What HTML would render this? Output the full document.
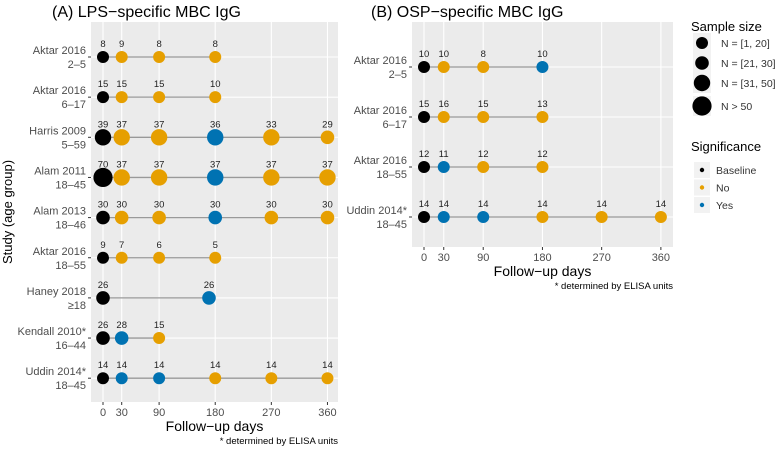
<!DOCTYPE html>
<html><head><meta charset="utf-8"><style>
body{margin:0;background:#fff;}
svg text{font-family:"Liberation Sans",sans-serif;}
</style></head><body>
<svg id="chart" width="779" height="450" viewBox="0 0 779 450" xmlns="http://www.w3.org/2000/svg">
<g id="root"></g>
</svg>
<script>
const daysTicks=[0,30,90,180,270,360];
// Panel A
const aStudies=["Aktar 2016|2\u20135","Aktar 2016|6\u201317","Harris 2009|5\u201359","Alam 2011|18\u201345","Alam 2013|18\u201346","Aktar 2016|18\u201355","Haney 2018|\u226518","Kendall 2010*|16\u201344","Uddin 2014*|18\u201345"];
const aDays=[[0,30,90,180],[0,30,90,180],[0,30,90,180,270,360],[0,30,90,180,270,360],[0,30,90,180,270,360],[0,30,90,180],[0,170],[0,30,90],[0,30,90,180,270,360]];
const aN=[[8,9,8,8],[15,15,15,10],[39,37,37,36,33,29],[70,37,37,37,37,37],[30,30,30,30,30,30],[9,7,6,5],[26,26],[26,28,15],[14,14,14,14,14,14]];
const aSig=[["B","N","N","N"],["B","N","N","N"],["B","N","N","Y","N","N"],["B","N","N","Y","N","N"],["B","N","N","Y","N","N"],["B","N","N","N"],["B","Y"],["B","Y","N"],["B","Y","Y","N","N","N"]];
// Panel B
const bStudies=["Aktar 2016|2\u20135","Aktar 2016|6\u201317","Aktar 2016|18\u201355","Uddin 2014*|18\u201345"];
const bDays=[[0,30,90,180],[0,30,90,180],[0,30,90,180],[0,30,90,180,270,360]];
const bN=[[10,10,8,10],[15,16,15,13],[12,11,12,12],[14,14,14,14,14,14]];
const bSig=[["B","N","N","Y"],["B","N","N","N"],["B","Y","N","N"],["B","Y","Y","N","N","N"]];

const NS="http://www.w3.org/2000/svg";
const root=document.getElementById('root');
const colors={B:"#000000",N:"#E69F00",Y:"#0072B2"};
function rad(n){return n<=20?6:n<=30?6.8:n<=50?8.2:9.6;}
function el(tag,attrs,parent,txt){const e=document.createElementNS(NS,tag);for(const k in attrs)e.setAttribute(k,attrs[k]);if(txt!==undefined)e.textContent=txt;(parent||root).appendChild(e);return e;}

function panel(cfg){
  const g=el('g',{});
  
  
  const {x0,x1,y0,y1,zeroX,perDay,rowY0,rowStep,studies,days,ns,sig}=cfg;
  const bg=el('rect',{x:x0,y:y0,width:x1-x0,height:y1-y0,fill:"#EBEBEB"},g);
  
  
  const xs=d=>zeroX+d*perDay;
  const ys=i=>rowY0+i*rowStep;
  daysTicks.forEach(t=>{
    el('line',{x1:xs(t),x2:xs(t),y1:y0,y2:y1,stroke:"#fff","stroke-width":1.1},g);
    el('line',{x1:xs(t),x2:xs(t),y1:y1,y2:y1+3,stroke:"#333","stroke-width":1},g);
    const tl=el('text',{x:xs(t),y:y1+14,"font-size":11,"text-anchor":"middle",fill:"#4d4d4d"},g,String(t));
    
    
  });
  studies.forEach((s,i)=>{
    const y=ys(i);
    el('line',{x1:x0,x2:x1,y1:y,y2:y,stroke:"#fff","stroke-width":1.1},g);
    el('line',{x1:x0-3,x2:x0,y1:y,y2:y,stroke:"#333","stroke-width":1},g);
    const p=s.split('|');
    const lab=el('text',{x:x0-5,y:y-3,"font-size":11,"text-anchor":"end",fill:"#4d4d4d"},g);
    
    
    el('tspan',{x:x0-5},lab,p[0]);
    el('tspan',{x:x0-5,dy:14},lab,p[1]);
    const d=days[i];
    const ln=el('line',{x1:xs(d[0]),x2:xs(d[d.length-1]),y1:y,y2:y,stroke:"#999","stroke-width":1.3},g);
    
    
    d.forEach((dd,j)=>{
      const c=el('circle',{cx:xs(dd),cy:y,r:rad(ns[i][j]),fill:colors[sig[i][j]]},g);
      
      
      const t=el('text',{x:xs(dd),y:y-10,"font-size":9.5,"text-anchor":"middle",fill:"#222"},g,String(ns[i][j]));
      
      
    });
  });
  const xt=el('text',{x:(x0+x1)/2,y:y1+29,"font-size":14,"text-anchor":"middle",fill:"#000"},g,"Follow\u2212up days");
  
  
  const nt=el('text',{x:x1,y:y1+42,"font-size":9.5,"text-anchor":"end",fill:"#000"},g,"* determined by ELISA units");
  
  
  const tt=el('text',{x:cfg.titleX,y:17,"font-size":16,fill:"#000"},g,cfg.title);
  
  
}
panel({name:'panel-a',x0:91,x1:338,y0:22,y1:402,zeroX:103,perDay:0.6235,rowY0:57,rowStep:40.15,studies:aStudies,days:aDays,ns:aN,sig:aSig,title:"(A)   LPS\u2212specific MBC IgG",titleX:52});
panel({name:'panel-b',x0:412,x1:673,y0:22,y1:247,zeroX:424,perDay:0.658,rowY0:67,rowStep:50,studies:bStudies,days:bDays,ns:bN,sig:bSig,title:"(B)   OSP\u2212specific MBC IgG",titleX:371});

const yt=el('text',{x:0,y:0,"font-size":13,"text-anchor":"middle",fill:"#000",transform:"translate(12,212) rotate(-90)"},root,"Study (age group)");



// legends
const lg=el('g',{});


el('text',{x:691,y:31,"font-size":13,fill:"#000"},lg,"Sample size");
const sizeLabels=["N = [1, 20]","N = [21, 30]","N = [31, 50]","N > 50"];
const sizeN=[10,25,40,70];
const sizeY=[43,63,83,106];
sizeLabels.forEach((s,i)=>{
  el('rect',{x:693,y:sizeY[i]-10,width:18,height:20,fill:"#F2F2F2"},lg);
  const c=el('circle',{cx:702,cy:sizeY[i],r:rad(sizeN[i]),fill:"#000"},lg);
  
  
  el('text',{x:721,y:sizeY[i]+4,"font-size":10.5,fill:"#333"},lg,s);
});
el('text',{x:691,y:151,"font-size":13,fill:"#000"},lg,"Significance");
[["Baseline","B"],["No","N"],["Yes","Y"]].forEach((s,i)=>{
  const y=170+i*17.5;
  el('rect',{x:694,y:y-8,width:16,height:16,fill:"#F2F2F2"},lg);
  const c=el('circle',{cx:702,cy:y,r:2.2,fill:colors[s[1]]},lg);
  
  
  el('text',{x:716,y:y+4,"font-size":10.5,fill:"#333"},lg,s[0]);
});
</script>
</body></html>
